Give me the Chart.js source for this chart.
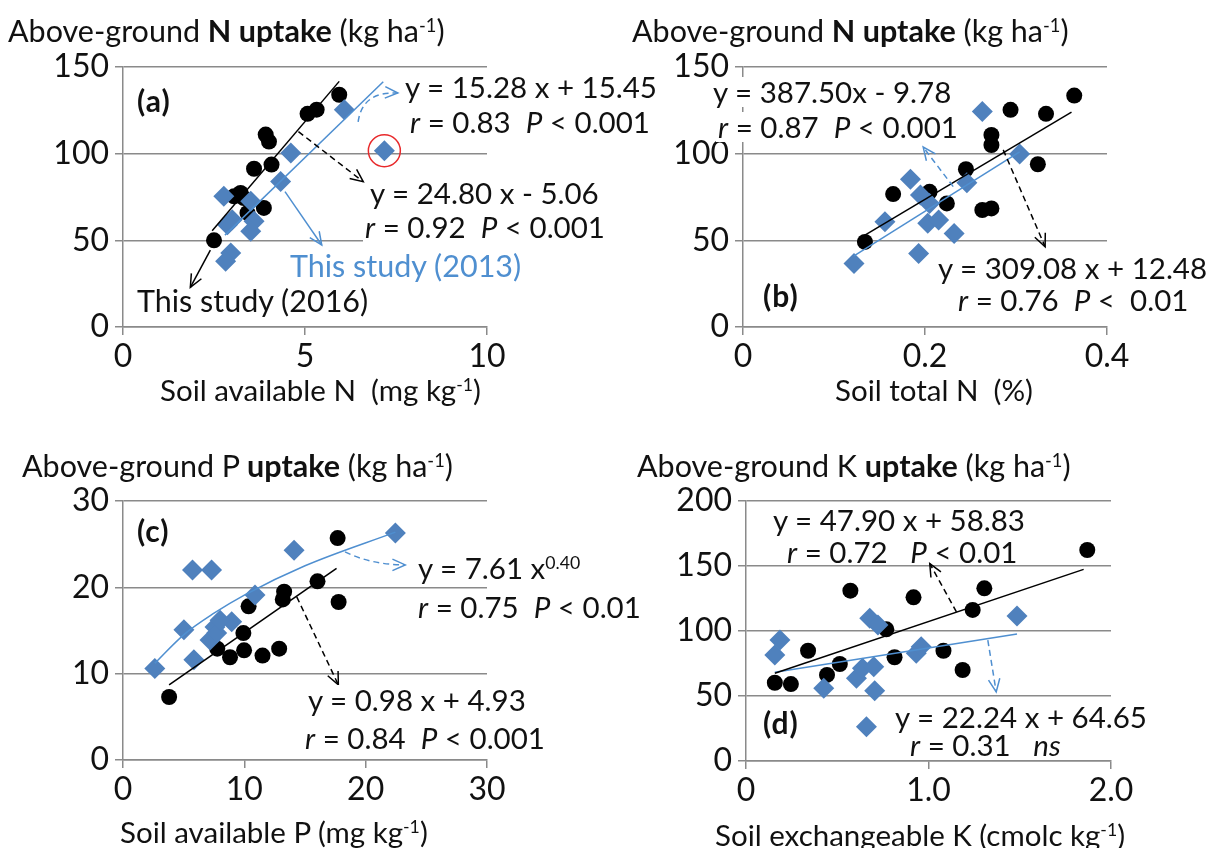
<!DOCTYPE html>
<html><head><meta charset="utf-8">
<script src="https://cdn.jsdelivr.net/npm/chart.js@4/dist/chart.umd.min.js"></script>
<style>
body{margin:0;background:#fff;}
#wrap{position:relative;width:1207px;height:848px;overflow:hidden;font-family:Lato,'Open Sans',sans-serif;color:#111;background:#fff;}
canvas{position:absolute;}
.t{position:absolute;white-space:nowrap;line-height:1.0;font-size:29.5px;z-index:2;}
.bg{background:#fff;padding:0 2px;}
.ttl{font-size:30.5px;}
.pl{font-size:30px;letter-spacing:1px;}
.ax{font-size:29.5px;}
.st{font-size:30.5px;}
sup{font-size:0.6em;vertical-align:0.55em;line-height:0;}
i{font-style:italic;}
.blue{color:#4F8FD0;}
</style></head>
<body>
<div id="wrap">
<canvas id="ca"></canvas><canvas id="cb"></canvas><canvas id="cc"></canvas><canvas id="cd"></canvas>

<div class="t ttl" style="left:8px;top:15px">Above-ground <b>N uptake</b> (kg ha<sup>-1</sup>)</div>
<div class="t pl" style="left:137px;top:85px"><b>(a)</b></div>
<div class="t" style="left:405px;top:72px">y = 15.28 x + 15.45</div>
<div class="t" style="left:410px;top:107px"><i>r</i> = 0.83&nbsp; <i>P</i> &lt; 0.001</div>
<div class="t bg" style="left:368px;top:178px">y = 24.80 x - 5.06</div>
<div class="t bg" style="left:363px;top:212px"><i>r</i> = 0.92&nbsp; <i>P</i> &lt; 0.001</div>
<div class="t bg blue st" style="left:288px;top:250px">This study (2013)</div>
<div class="t st" style="left:137px;top:285px">This study (2016)</div>
<div class="t ax" style="left:160px;top:375px">Soil available N&nbsp; (mg kg<sup>-1</sup>)</div>

<div class="t ttl" style="left:632px;top:15px">Above-ground <b>N uptake</b> (kg ha<sup>-1</sup>)</div>
<div class="t bg" style="left:711px;top:77px">y = 387.50x - 9.78</div>
<div class="t bg" style="left:716px;top:112px"><i>r</i> = 0.87&nbsp; <i>P</i> &lt; 0.001</div>
<div class="t bg" style="left:936px;top:253px">y = 309.08 x + 12.48</div>
<div class="t" style="left:958px;top:285px"><i>r</i> = 0.76&nbsp; <i>P</i> &lt;&nbsp; 0.01</div>
<div class="t pl" style="left:763px;top:280px"><b>(b)</b></div>
<div class="t ax" style="left:835px;top:375px">Soil total N&nbsp; (%)</div>

<div class="t ttl" style="left:22px;top:450px">Above-ground P <b>uptake</b> (kg ha<sup>-1</sup>)</div>
<div class="t pl" style="left:137px;top:515px"><b>(c)</b></div>
<div class="t" style="left:418px;top:553px">y = 7.61 x<sup>0.40</sup></div>
<div class="t" style="left:418px;top:592px"><i>r</i> = 0.75&nbsp; <i>P</i> &lt; 0.01</div>
<div class="t bg" style="left:306px;top:685px">y = 0.98 x + 4.93</div>
<div class="t" style="left:305px;top:723px"><i>r</i> = 0.84&nbsp; <i>P</i> &lt; 0.001</div>
<div class="t ax" style="left:120px;top:817px">Soil available P (mg kg<sup>-1</sup>)</div>

<div class="t ttl" style="left:637px;top:450px">Above-ground K <b>uptake</b> (kg ha<sup>-1</sup>)</div>
<div class="t" style="left:773px;top:505px">y = 47.90 x + 58.83</div>
<div class="t" style="left:787px;top:537px"><i>r</i> = 0.72&nbsp;&nbsp; <i>P</i> &lt; 0.01</div>
<div class="t bg" style="left:893px;top:702px">y = 22.24 x + 64.65</div>
<div class="t" style="left:910px;top:730px"><i>r</i> = 0.31&nbsp;&nbsp; <i>ns</i></div>
<div class="t pl" style="left:763px;top:707px"><b>(d)</b></div>
<div class="t ax" style="left:715px;top:820px">Soil exchangeable K (cmolc kg<sup>-1</sup>)</div>
</div>

<script>
// ---------- DATA ----------
// Panel (a): soil available N vs N uptake
const aBlackX = [2.50, 3.05, 3.23, 3.32, 3.42, 3.60, 3.87, 3.92, 4.01, 4.08, 5.07, 5.32, 5.94];
const aBlackY = [50.0, 75.4, 77.3, 74.4, 65.8, 91.3, 68.7, 111, 107, 93.7, 123, 125.4, 134];
const aBlueX = [2.77, 3.51, 3.00, 2.87, 3.60, 3.51, 2.96, 2.82, 4.61, 4.33, 6.08, 7.18];
const aBlueY = [75.4, 72.5, 61.9, 59.0, 61.0, 55.2, 42.7, 37.9, 100.4, 84.0, 125.4, 101.7];
const aBlackTrendX = [2.45, 5.94], aBlackTrendY = [55.5, 141.7];
const aBlueTrendX = [2.80, 7.15], aBlueTrendY = [53.0, 141.5];
const aXTicks = [0, 5, 10], aYTicks = [0, 50, 100, 150];

// Panel (b): soil total N vs N uptake
const bBlackX = [0.134, 0.165, 0.205, 0.224, 0.245, 0.263, 0.273, 0.273, 0.273, 0.294, 0.324, 0.333, 0.364];
const bBlackY = [49.1, 76.7, 78.0, 71.3, 91.0, 67.5, 68.4, 110.8, 105.0, 125.3, 93.9, 123.0, 133.5];
const bBlueX = [0.122, 0.156, 0.184, 0.195, 0.205, 0.203, 0.215, 0.193, 0.232, 0.246, 0.263, 0.304];
const bBlueY = [36.6, 60.7, 85.2, 76.1, 71.3, 59.8, 61.7, 42.4, 54.0, 83.2, 124.3, 99.8];
const bBlackTrendX = [0.134, 0.361], bBlackTrendY = [53.0, 124.0];
const bBlueTrendX = [0.122, 0.304], bBlueTrendY = [41.0, 101.0];
const bXTicks = [0, 0.2, 0.4], bYTicks = [0, 50, 100, 150];

// Panel (c): soil available P vs P uptake
const cBlackX = [3.80, 7.77, 8.82, 9.98, 9.92, 10.35, 11.5, 12.87, 13.17, 13.28, 16.03, 17.69, 17.77];
const cBlackY = [7.3, 12.9, 11.9, 12.7, 14.7, 17.8, 12.1, 12.9, 18.6, 19.5, 20.7, 25.7, 18.3];
const cBlueX = [2.62, 5.84, 5.02, 5.73, 7.30, 7.17, 7.58, 7.72, 8.96, 8.00, 10.88, 14.1, 22.45];
const cBlueY = [10.6, 11.6, 15.1, 22.0, 22.0, 13.9, 15.4, 14.7, 16.0, 16.2, 19.1, 24.3, 26.3];
const cBlackTrendX = [3.8, 17.6], cBlackTrendY = [8.7, 22.2];
const cBlueCurveX = [2.62, 5.0, 7.5, 10.0, 15.0, 22.45];
const cBlueCurveY = [11.2, 14.5, 17.0, 19.1, 22.5, 26.4];
const cXTicks = [0, 10, 20, 30], cYTicks = [0, 10, 20, 30];

// Panel (d): soil exchangeable K vs K uptake
const dBlackX = [0.158, 0.246, 0.34, 0.444, 0.514, 0.572, 0.769, 0.814, 0.918, 1.082, 1.187, 1.242, 1.306, 1.87];
const dBlackY = [60.2, 59.2, 84.8, 66.2, 74.6, 131.0, 101.3, 79.8, 125.9, 84.8, 70.0, 116.2, 132.8, 162.3];
const dBlueX = [0.158, 0.186, 0.426, 0.605, 0.638, 0.70, 0.705, 0.66, 0.678, 0.723, 0.933, 0.96, 1.485];
const dBlueY = [81.5, 93.0, 56.0, 63.6, 71.3, 72.5, 54.1, 26.4, 109.8, 104.6, 82.8, 87.9, 111.5];
const dBlackTrendX = [0.158, 1.85], dBlackTrendY = [67.5, 147.4];
const dBlueTrendX = [0.158, 1.485], dBlueTrendY = [68.2, 97.7];
const dXTicks = [0, 1.0, 2.0], dYTicks = [0, 50, 100, 150, 200];

// ---------- RENDER ----------
const BLUE = '#4F81BD', BLUE_LINE = '#4F8FD0', GRID = '#8a8a8a';
const zip = (xs, ys) => xs.map((x, i) => ({x, y: ys[i]}));

const annot = {
  id: 'annot',
  afterDatasetsDraw(chart, args, opts) {
    const ctx = chart.ctx, sx = chart.scales.x, sy = chart.scales.y;
    const P = p => [sx.getPixelForValue(p[0]), sy.getPixelForValue(p[1])];
    (opts.arrows || []).forEach(a => {
      const s = P(a.from), e = P(a.to);
      ctx.save();
      ctx.strokeStyle = a.color; ctx.lineWidth = 1.5;
      ctx.setLineDash(a.dash ? [6, 4] : []);
      ctx.beginPath(); ctx.moveTo(s[0], s[1]);
      let ang;
      if (a.ctrl) { const c = P(a.ctrl); ctx.quadraticCurveTo(c[0], c[1], e[0], e[1]); ang = Math.atan2(e[1]-c[1], e[0]-c[0]); }
      else { ctx.lineTo(e[0], e[1]); ang = Math.atan2(e[1]-s[1], e[0]-s[0]); }
      ctx.stroke();
      ctx.setLineDash([]);
      const L = 14, w = 0.42;
      ctx.beginPath();
      ctx.moveTo(e[0] - L*Math.cos(ang - w), e[1] - L*Math.sin(ang - w));
      ctx.lineTo(e[0], e[1]);
      ctx.lineTo(e[0] - L*Math.cos(ang + w), e[1] - L*Math.sin(ang + w));
      ctx.stroke();
      ctx.restore();
    });
    (opts.circles || []).forEach(c => {
      const p = P(c.at);
      ctx.save(); ctx.strokeStyle = '#e8292b'; ctx.lineWidth = 1.5;
      ctx.beginPath(); ctx.arc(p[0], p[1], c.r, 0, Math.PI*2); ctx.stroke(); ctx.restore();
    });
  }
};

function makePanel(id, box, area, d) {
  const cv = document.getElementById(id);
  cv.style.left = box.left + 'px'; cv.style.top = box.top + 'px';
  cv.width = box.width; cv.height = box.height;
  cv.style.width = box.width + 'px'; cv.style.height = box.height + 'px';
  const yW = area.l - box.left, xH = box.top + box.height - area.b;
  const font = {family: 'Lato, "Open Sans", sans-serif', size: 32};
  const datasets = [];
  d.lines.forEach(l => datasets.push({type: 'line', data: zip(l.x, l.y), borderColor: l.color, borderWidth: 1.5,
    pointRadius: 0, fill: false, tension: l.tension || 0, cubicInterpolationMode: l.tension ? 'monotone' : 'default', order: 0}));
  datasets.push({type: 'scatter', data: zip(d.blueX, d.blueY), pointStyle: 'rectRot', radius: 10.5,
    backgroundColor: BLUE, borderColor: BLUE, borderWidth: 0, order: 1});
  datasets.push({type: 'scatter', data: zip(d.blackX, d.blackY), pointStyle: 'circle', radius: 8,
    backgroundColor: '#000', borderColor: '#000', borderWidth: 0, order: 2});
  new Chart(cv, {
    type: 'scatter',
    data: {datasets},
    options: {
      responsive: false, animation: false, devicePixelRatio: 1,
      layout: {padding: {left: 0, top: area.t - box.top, right: box.left + box.width - area.r, bottom: 0}},
      plugins: {legend: {display: false}, tooltip: {enabled: false}, annot: {arrows: d.arrows, circles: d.circles || []}},
      scales: {
        x: {type: 'linear', min: d.xTicks[0], max: d.xTicks[d.xTicks.length-1],
          afterBuildTicks: s => { s.ticks = d.xTicks.map(v => ({value: v})); },
          afterFit: s => { s.height = xH; },
          ticks: {font, color: '#111', padding: 2, maxRotation: 0, autoSkip: false, callback: d.xFmt},
          grid: {drawOnChartArea: false, drawTicks: true, tickLength: 8, color: GRID, lineWidth: 1.5},
          border: {color: GRID, width: 1.5}},
        y: {type: 'linear', min: d.yTicks[0], max: d.yTicks[d.yTicks.length-1],
          afterBuildTicks: s => { s.ticks = d.yTicks.map(v => ({value: v})); },
          afterFit: s => { s.width = yW; },
          ticks: {font, color: '#111', padding: 6, autoSkip: false},
          grid: {color: GRID, lineWidth: 1.5, tickLength: 8},
          border: {color: GRID, width: 1.5}}
      }
    },
    plugins: [annot]
  });
}

makePanel('ca', {left: 0, top: 36, width: 540, height: 384}, {l: 123, t: 67, r: 487, b: 327}, {
  blackX: aBlackX, blackY: aBlackY, blueX: aBlueX, blueY: aBlueY, xTicks: aXTicks, yTicks: aYTicks,
  xFmt: v => String(v),
  lines: [{x: aBlackTrendX, y: aBlackTrendY, color: '#000'}, {x: aBlueTrendX, y: aBlueTrendY, color: BLUE_LINE}],
  arrows: [
    {from: [6.46, 118.3], ctrl: [6.57, 136], to: [7.55, 135], color: BLUE_LINE, dash: true},
    {from: [4.82, 112.7], to: [6.60, 83.8], color: '#000', dash: true},
    {from: [4.45, 78.1], to: [5.46, 47.3], color: BLUE_LINE, dash: false},
    {from: [2.40, 44.4], to: [1.85, 22.9], color: '#000', dash: false}
  ],
  circles: [{at: [7.18, 101.7], r: 16}]
});

makePanel('cb', {left: 620, top: 36, width: 587, height: 384}, {l: 743, t: 67, r: 1107, b: 327}, {
  blackX: bBlackX, blackY: bBlackY, blueX: bBlueX, blueY: bBlueY, xTicks: bXTicks, yTicks: bYTicks,
  xFmt: v => v === 0 ? '0' : v.toFixed(1),
  lines: [{x: bBlackTrendX, y: bBlackTrendY, color: '#000'}, {x: bBlueTrendX, y: bBlueTrendY, color: BLUE_LINE}],
  arrows: [
    {from: [0.231, 81.0], to: [0.198, 103.8], color: BLUE_LINE, dash: true},
    {from: [0.286, 102.2], to: [0.332, 46.3], color: '#000', dash: true}
  ]
});

makePanel('cc', {left: 0, top: 470, width: 540, height: 378}, {l: 123, t: 501, r: 487, b: 760}, {
  blackX: cBlackX, blackY: cBlackY, blueX: cBlueX, blueY: cBlueY, xTicks: cXTicks, yTicks: cYTicks,
  xFmt: v => String(v),
  lines: [{x: cBlackTrendX, y: cBlackTrendY, color: '#000'}, {x: cBlueCurveX, y: cBlueCurveY, color: BLUE_LINE, tension: 0.4}],
  arrows: [
    {from: [18.3, 24.1], ctrl: [20.5, 22.6], to: [23.26, 22.6], color: BLUE_LINE, dash: true},
    {from: [14.32, 18.9], to: [17.75, 8.7], color: '#000', dash: true}
  ]
});

makePanel('cd', {left: 620, top: 470, width: 587, height: 378}, {l: 746, t: 501, r: 1111, b: 761}, {
  blackX: dBlackX, blackY: dBlackY, blueX: dBlueX, blueY: dBlueY, xTicks: dXTicks, yTicks: dYTicks,
  xFmt: v => v === 0 ? '0' : v.toFixed(1),
  lines: [{x: dBlackTrendX, y: dBlackTrendY, color: '#000'}, {x: dBlueTrendX, y: dBlueTrendY, color: BLUE_LINE}],
  arrows: [
    {from: [1.153, 114.7], to: [1.007, 151.9], color: '#000', dash: true},
    {from: [1.325, 93.0], to: [1.371, 53.2], color: BLUE_LINE, dash: true}
  ]
});
</script>
</body></html>
